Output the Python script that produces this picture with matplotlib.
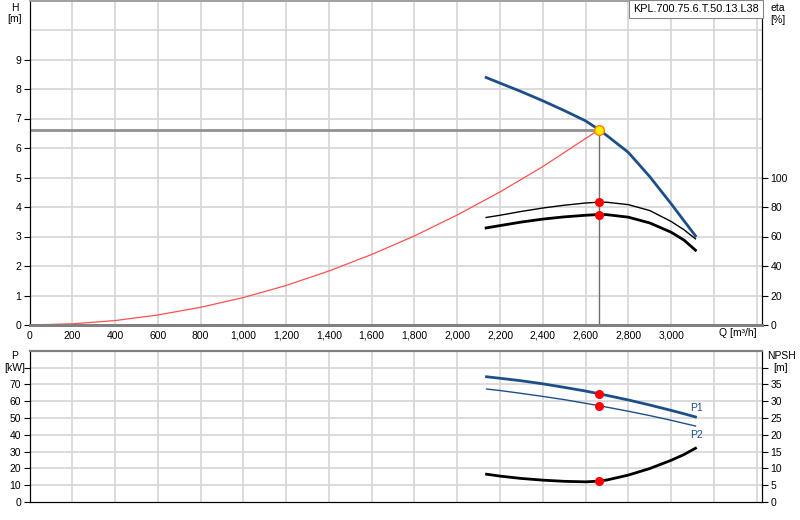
import matplotlib
matplotlib.use("Agg")
import matplotlib.pyplot as plt
from matplotlib.ticker import FuncFormatter

plt.rcParams['font.family'] = ['Liberation Sans', 'DejaVu Sans']
plt.rcParams['font.size'] = 7.5

# pump curve H(Q)
q_h = [2135, 2200, 2300, 2400, 2500, 2600, 2663, 2700, 2800, 2900, 3000, 3050, 3114]
h = [8.39, 8.20, 7.91, 7.60, 7.27, 6.92, 6.62, 6.42, 5.85, 5.03, 4.11, 3.63, 3.02]

# system curve
q_sys = [0, 200, 400, 600, 800, 1000, 1200, 1400, 1600, 1800, 2000, 2200, 2400, 2663]
h_sys = [0, 0.04, 0.15, 0.34, 0.6, 0.93, 1.34, 1.83, 2.39, 3.02, 3.73, 4.51, 5.37, 6.62]

# efficiencies
q_eta = [2135, 2200, 2300, 2400, 2500, 2600, 2663, 2700, 2800, 2900, 3000, 3060, 3114]
eta_pump = [72.9, 74.4, 77.0, 79.3, 81.2, 82.7, 83.3, 83.2, 81.6, 77.6, 70.2, 64.6, 58.4]
eta_total = [65.8, 67.4, 69.8, 71.8, 73.3, 74.4, 74.9, 74.8, 73.1, 69.2, 62.9, 57.6, 50.7]

# power P1 / P2 and NPSH
q_p = [2137, 2200, 2300, 2400, 2500, 2600, 2663, 2700, 2800, 2900, 3000, 3060, 3114]
p1 = [74.5, 73.6, 72.1, 70.3, 68.2, 66.0, 64.4, 63.4, 60.7, 57.7, 54.5, 52.5, 50.6]
p2 = [67.2, 66.3, 64.6, 62.8, 60.9, 58.7, 57.3, 56.4, 54.0, 51.4, 48.6, 46.8, 45.2]
npsh = [8.27, 7.7, 7.0, 6.5, 6.15, 6.0, 6.2, 6.55, 8.0, 9.95, 12.4, 14.1, 16.0]

duty_q = 2663
duty_h = 6.62
duty_eta = [83.3, 74.9]
duty_p = [64.4, 57.3]
duty_npsh = 6.2

pump_name = "KPL.700.75.6.T.50.13.L38"

blue = '#1c4f8a'
grid_c = '#d6d6d6'
xmax = 3425

fig = plt.figure(figsize=(8, 5.2), dpi=100)
W, H = 800.0, 520.0
ax = fig.add_axes([29.5 / W, (520 - 325) / H, 732.5 / W, 324.5 / H])
ax2 = ax.twinx()
bx = fig.add_axes([29.5 / W, (520 - 502) / H, 732.5 / W, 151.3 / H])
bx2 = bx.twinx()

xgrid = list(range(200, 3401, 200))

# ---- top plot
ax.set_xlim(0, xmax)
ax.set_ylim(0, 11)
ax2.set_ylim(0, 220)
for x in xgrid:
    ax.axvline(x, color=grid_c, lw=1.2, zorder=0)
for y in range(1, 11):
    ax.axhline(y, color=grid_c, lw=1.2, zorder=0)

ax.plot(q_sys, h_sys, color='#ff5050', lw=0.9, zorder=3)
ax.plot([0, duty_q], [duty_h, duty_h], color='#909090', lw=2, zorder=2)
ax.plot([duty_q, duty_q], [0, duty_h], color='#707070', lw=1, zorder=2)
ax.plot(q_h, h, color=blue, lw=2, zorder=4)
ax2.plot(q_eta, eta_pump, color='black', lw=1, zorder=4)
ax2.plot(q_eta, eta_total, color='black', lw=2, zorder=4)
ax2.plot([duty_q] * 2, duty_eta, 'o', color='red', ms=5.5, zorder=5)
ax.plot([duty_q], [duty_h], 'o', color='#ffee00', mec='#ff8000', mew=1, ms=7, zorder=6)

ax.set_yticks(range(0, 10))
ax.set_xticks(range(0, 3001, 200))
ax.xaxis.set_major_formatter(FuncFormatter(lambda v, p: f"{int(v):,}"))
ax.tick_params(axis='x', length=0, pad=4)
ax.tick_params(axis='y', length=4, direction='out', pad=2)
ax2.set_yticks(range(0, 101, 20))
ax2.tick_params(axis='y', length=4, direction='out', pad=2)

for a in (ax, ax2):
    a.spines['left'].set_color('black')
    a.spines['right'].set_color('black')
    a.spines['bottom'].set_color('#808080')
    a.spines['bottom'].set_linewidth(2)
    a.spines['top'].set_color('#a0a0a0')
    a.spines['top'].set_linewidth(1.2)

ax.text((757 - 29.5) / 732.5, -0.026, "Q [m³/h]", transform=ax.transAxes,
        ha='right', va='center')
fig.text(15 / W, 1 - 8 / H, "H", ha='center', va='center')
fig.text(15 / W, 1 - 19 / H, "[m]", ha='center', va='center')
fig.text(778 / W, 1 - 8 / H, "eta", ha='center', va='center')
fig.text(778 / W, 1 - 20 / H, "[%]", ha='center', va='center')
fig.text(759 / W, 1 - 9 / H, pump_name, ha='right', va='center', fontsize=7.8,
         bbox=dict(boxstyle='square,pad=0.35', fc='white', ec='#888888', lw=0.8))

# ---- bottom plot
bx.set_xlim(0, xmax)
bx.set_ylim(0, 90)
bx2.set_ylim(0, 45)
for x in xgrid:
    bx.axvline(x, color=grid_c, lw=1.2, zorder=0)
for y in range(10, 81, 10):
    bx.axhline(y, color=grid_c, lw=1.2, zorder=0)

bx.plot(q_p, p1, color=blue, lw=2, zorder=4)
bx.plot(q_p, p2, color=blue, lw=1, zorder=4)
bx2.plot(q_p, npsh, color='black', lw=2, zorder=4)
bx.plot([duty_q] * 2, duty_p, 'o', color='red', ms=5.5, zorder=5)
bx2.plot([duty_q], [duty_npsh], 'o', color='red', ms=5.5, zorder=5)
bx.text(3150, 53, "P1", color=blue, ha='right', va='bottom')
bx.text(3150, 40, "P2", color=blue, ha='right', va='center')

bx.set_xticks([])
bx.set_yticks(range(0, 81, 10))
bx.set_yticklabels([str(v) for v in range(0, 71, 10)] + [''])
bx.tick_params(axis='y', length=4, direction='out', pad=2)
bx2.set_yticks(range(0, 41, 5))
bx2.set_yticklabels([str(v) for v in range(0, 36, 5)] + [''])
bx2.tick_params(axis='y', length=4, direction='out', pad=2)

for a in (bx, bx2):
    a.spines['left'].set_color('black')
    a.spines['right'].set_color('black')
    a.spines['bottom'].set_color('black')
    a.spines['top'].set_color('#808080')
    a.spines['top'].set_linewidth(1.5)

fig.text(15 / W, 1 - 356 / H, "P", ha='center', va='center')
fig.text(15 / W, 1 - 368 / H, "[kW]", ha='center', va='center')
fig.text(781 / W, 1 - 356 / H, "NPSH", ha='center', va='center')
fig.text(781 / W, 1 - 368 / H, "[m]", ha='center', va='center')

fig.savefig("out.png", dpi=100)
